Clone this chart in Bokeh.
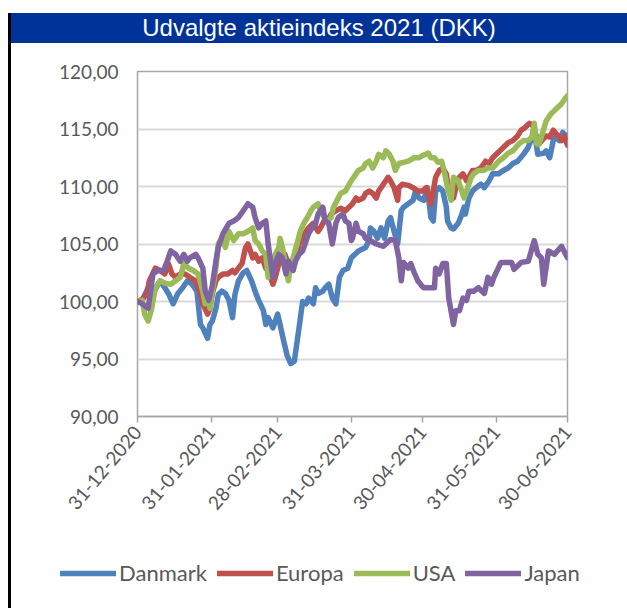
import pandas as pd
from bokeh.plotting import figure
from bokeh.models import (Range1d, FixedTicker, DatetimeTickFormatter, Legend,
                          LegendItem, Div)
from bokeh.layouts import row, column
from bokeh.embed import file_html
from bokeh.resources import INLINE

title_text = "Udvalgte aktieindeks 2021 (DKK)"
start_date = "2020-12-31"
end_date = "2021-06-30"
series_names = ["Danmark", "Europa", "USA", "Japan"]
series_colors = ["#4F81BD", "#C0504D", "#9BBB59", "#8064A2"]
x_tick_dates = ["2020-12-31", "2021-01-31", "2021-02-28", "2021-03-31",
                "2021-04-30", "2021-05-31", "2021-06-30"]
x_tick_labels = ["31-12-2020", "31-01-2021", "28-02-2021", "31-03-2021",
                 "30-04-2021", "31-05-2021", "30-06-2021"]
y_ticks = [90, 95, 100, 105, 110, 115, 120]
y_tick_labels = ["90,00", "95,00", "100,00", "105,00", "110,00", "115,00", "120,00"]

# (days after 31-12-2020, index value)
danmark = [(0, 100.0), (2, 100.1), (4.5, 101.2), (6.5, 100.7), (9.5, 101.8), (11.5, 101.2),
           (13, 100.7), (15, 99.8), (17, 100.7), (19, 101.2), (21, 101.8), (23, 101.5),
           (25, 100.9), (26.5, 98.0), (27.5, 97.7), (29.5, 96.8), (30.5, 98.0), (31.5, 98.3),
           (33, 99.4), (34, 100.6), (35.5, 100.9), (37, 100.7), (38.5, 100.1), (40, 98.6),
           (41, 100.6), (42.5, 101.8), (44.5, 102.5), (46, 102.7), (48, 101.8), (50, 100.6),
           (51, 100.1), (53, 99.2), (54, 98.0), (55, 98.6), (57, 97.7), (59, 98.9),
           (60, 98.0), (61.5, 96.6), (63, 95.3), (64.5, 94.6), (66, 94.8), (68, 97.7),
           (69.5, 100.0), (71, 99.8), (72, 100.3), (74, 99.8), (75, 101.2), (76, 100.7),
           (78, 100.9), (79, 101.2), (80.5, 101.5), (82, 100.3), (83.5, 99.8), (85, 102.1),
           (86.5, 102.7), (88.5, 102.9), (90, 103.8), (93, 104.4), (96, 104.7), (97.5, 105.3),
           (98, 106.4), (99.5, 106.1), (101, 105.5), (102.5, 106.4), (104, 105.5), (105.5, 107.0),
           (106.5, 107.3), (108, 106.1), (109.5, 105.0), (111, 107.9), (112, 108.2), (114, 108.5),
           (116, 108.8), (117, 109.6), (118.5, 109.0), (120.5, 108.8), (122, 109.9), (123.5, 107.3),
           (124.5, 107.0), (125.5, 109.6), (127, 109.9), (128.5, 109.6), (130, 108.2), (130.5, 107.0),
           (132, 106.4), (133, 106.3), (135, 106.8), (136, 107.3), (137.5, 108.2), (138, 107.6),
           (139.5, 109.0), (141, 109.6), (142.5, 109.9), (144.5, 110.2), (146, 109.9), (148, 110.5),
           (149.5, 111.1), (152, 111.1), (154, 111.4), (156, 111.6), (158, 112.0), (160, 112.2),
           (162.5, 112.8), (164.5, 113.4), (165.5, 114.0), (167, 114.7), (168.5, 112.8), (171, 112.9),
           (172, 113.1), (173.5, 112.5), (175, 114.0), (176, 114.3), (177.5, 114.0), (179, 114.7),
           (181, 114.3)]

europa = [(0, 100.0), (2, 100.2), (4, 100.7), (5, 101.8), (7.5, 102.9), (9.5, 102.7),
          (11.5, 102.4), (13, 103.3), (14.5, 102.4), (16, 102.1), (18, 102.4), (20, 102.4),
          (22, 102.1), (24.5, 101.8), (26.5, 100.7), (27.5, 99.8), (29.5, 98.9), (30.5, 99.4),
          (31.5, 100.7), (33, 101.8), (34, 102.1), (36, 102.4), (38, 102.4), (40, 102.7),
          (41, 102.5), (42.5, 102.9), (44, 103.3), (45.5, 104.7), (46.5, 105.0), (48.5, 103.8),
          (49.5, 104.1), (51, 103.5), (52.5, 103.8), (54, 102.9), (55, 102.7), (57, 101.5),
          (58, 102.1), (59.5, 103.3), (61, 103.8), (62, 104.1), (63.5, 103.3), (65, 103.5),
          (66.5, 103.8), (68, 105.0), (69.5, 105.5), (71, 106.1), (72, 106.4), (74, 106.8),
          (76, 106.1), (77, 106.4), (78.5, 107.0), (80, 107.0), (81.5, 107.6), (83.5, 107.9),
          (85.5, 108.1), (87.5, 107.9), (89, 108.2), (90.5, 108.5), (92, 109.0), (93, 108.8),
          (95, 109.0), (96, 109.4), (97.5, 109.6), (99, 109.4), (100.5, 109.0), (101.5, 109.6),
          (103.5, 110.2), (105.5, 110.8), (106.5, 110.5), (108, 109.9), (109.5, 108.8), (110, 109.9),
          (111.5, 110.2), (114, 110.1), (116, 109.9), (118, 109.6), (120, 109.6), (121.5, 109.9),
          (123.5, 108.5), (124.5, 109.6), (125.5, 110.8), (127, 111.4), (128.5, 111.6), (130, 111.1),
          (131, 109.6), (133, 109.0), (134, 109.9), (135.5, 110.8), (137, 111.1), (138.5, 110.5),
          (139.5, 110.8), (141, 111.4), (142.5, 111.4), (144.5, 111.6), (146.5, 112.2), (148, 112.0),
          (149.5, 112.5), (152, 113.0), (154, 113.4), (156, 113.8), (158, 114.0), (160, 114.4),
          (161.5, 114.9), (163, 115.1), (165, 115.5), (166.5, 115.3), (168, 114.3), (169, 113.7),
          (171, 114.2), (172, 114.4), (173.5, 114.3), (175, 114.9), (177, 114.4), (178.5, 114.0),
          (179.5, 114.4), (181, 113.6)]

usa = [(0, 100.0), (2, 100.1), (3, 98.9), (4.5, 98.3), (6, 99.4), (7.5, 101.2),
       (9.5, 101.8), (11.5, 101.6), (14, 101.5), (16, 101.8), (18, 102.1), (19.5, 103.3),
       (21.5, 102.9), (23.5, 102.7), (25.5, 102.4), (27.5, 100.9), (28.5, 99.8), (30, 100.1),
       (30.5, 99.4), (31.5, 100.9), (33, 102.9), (34, 105.0), (35.5, 105.5), (37, 104.7),
       (38.5, 106.1), (40.5, 105.3), (42.5, 105.9), (44.5, 105.9), (46.5, 106.1), (48.5, 106.4),
       (49.5, 105.3), (51, 105.0), (52.5, 104.4), (54, 104.1), (55, 102.1), (57, 103.3),
       (58, 104.1), (59.5, 104.7), (60, 105.5), (61, 104.7), (62.5, 102.9), (63.5, 101.8),
       (64.5, 103.3), (65.5, 103.8), (67.5, 105.3), (68.5, 106.1), (70, 106.8), (71.5, 107.3),
       (73, 107.9), (74, 108.2), (76, 108.5), (77, 107.9), (78.5, 107.3), (80, 107.0),
       (81.5, 107.3), (82.5, 108.2), (84.5, 109.0), (85.5, 109.4), (87.5, 109.6), (90, 110.5),
       (92, 111.1), (93, 111.4), (95, 111.6), (96, 112.0), (97.5, 112.2), (99, 111.6),
       (100.5, 112.2), (101.5, 112.8), (103.5, 112.5), (104.5, 113.1), (106, 112.8), (107.5, 112.2),
       (108.5, 111.4), (110, 112.0), (112, 112.1), (114, 112.2), (116.5, 112.5), (118.5, 112.5),
       (120, 112.7), (122.5, 112.9), (123.5, 112.5), (125, 112.5), (126.5, 112.1), (128, 112.2),
       (129, 111.4), (130.5, 109.9), (132, 108.8), (133, 110.8), (135, 110.5), (136, 109.9),
       (137.5, 109.0), (139, 109.9), (140.5, 110.8), (141.5, 111.1), (143.5, 111.4), (145.5, 111.4),
       (147.5, 111.6), (149.5, 111.6), (152, 112.2), (154, 112.5), (156, 112.9), (158, 113.1),
       (160.5, 113.7), (162.5, 114.0), (164.5, 114.0), (166, 114.3), (167, 115.5), (168, 113.7),
       (169, 113.7), (170, 114.3), (172, 115.7), (174, 116.3), (176.5, 116.8), (178.5, 117.2),
       (179.5, 117.5), (181, 117.9)]

japan = [(0, 100.0), (2, 99.8), (4.5, 99.4), (6.5, 102.4), (8.5, 102.7), (11, 102.7),
         (12.5, 103.5), (14, 104.4), (16, 104.1), (18, 103.5), (19.5, 104.1), (21, 103.5),
         (22, 103.8), (24.5, 104.1), (25.5, 103.8), (27.5, 102.9), (28.5, 100.9), (30, 100.1),
         (31.5, 101.4), (33, 103.5), (34, 104.7), (36, 105.9), (38.5, 106.8), (40.5, 107.0),
         (42.5, 107.3), (44.5, 107.9), (46.5, 108.5), (48.5, 108.2), (49.5, 107.3), (51, 106.4),
         (52.5, 106.8), (54, 107.0), (55, 105.0), (57, 102.1), (58, 103.3), (59.5, 104.1),
         (61, 103.8), (62.5, 102.4), (63.5, 103.5), (65.5, 102.7), (66.5, 103.5), (68, 104.1),
         (69.5, 104.4), (71, 105.3), (72, 105.9), (73.5, 106.4), (75, 106.8), (76, 107.6),
         (78, 108.2), (79, 107.0), (80.5, 106.8), (82, 105.0), (83.5, 106.8), (84.5, 107.3),
         (86.5, 107.6), (87.5, 107.0), (89, 106.8), (90, 105.3), (90.5, 105.5), (92, 106.8),
         (93, 106.1), (95, 105.9), (96, 105.5), (98, 105.3), (100.5, 105.0), (103.5, 104.8),
         (106.5, 105.4), (108.5, 105.3), (110, 103.8), (111, 101.8), (112, 103.4), (114, 102.9),
         (115, 103.3), (116.5, 102.5), (118, 101.8), (119.5, 101.4), (120.5, 101.2), (122.5, 101.2),
         (125, 101.2), (125.5, 102.9), (127, 102.4), (128.5, 103.3), (130, 103.3), (131, 100.3),
         (133, 98.0), (134, 99.2), (135.5, 99.2), (137, 100.3), (138.5, 100.1), (139.5, 100.9),
         (141.5, 100.9), (143.5, 101.2), (146, 100.7), (147.5, 102.1), (149, 101.5), (150, 102.1),
         (153, 103.4), (155, 103.4), (157.5, 103.4), (158.5, 102.8), (161.5, 103.4), (164.5, 103.5),
         (167, 105.3), (168.5, 104.1), (170, 103.8), (171, 101.5), (173, 104.4), (175.5, 104.1),
         (178.5, 104.8), (179.5, 104.4), (181, 103.8)]

series_data = [danmark, europa, usa, japan]

t0 = pd.Timestamp(start_date)

def to_xy(pairs):
    xs = [t0 + pd.Timedelta(days=d) for d, _ in pairs]
    ys = [v for _, v in pairs]
    return xs, ys

FONT = "Lato"
TXT = "#595959"
GRID = "#d9d9d9"
AXIS = "#a6a6a6"
LINE_W = 5.5

# ---------------- main chart ----------------
p = figure(width=616, height=497, x_axis_type="datetime",
           x_range=Range1d(t0, pd.Timestamp(end_date)),
           y_range=Range1d(90, 120),
           output_backend="svg", toolbar_location=None, title=None,
           min_border_left=126, min_border_right=60,
           min_border_top=28, min_border_bottom=124)
p.outline_line_color = AXIS
p.outline_line_width = 1.5
p.background_fill_color = "white"
p.border_fill_color = "white"

p.xgrid.visible = False
p.ygrid.grid_line_color = GRID
p.ygrid.grid_line_width = 2

tick_ms = [pd.Timestamp(d).value // 10**6 for d in x_tick_dates]
p.xaxis.ticker = FixedTicker(ticks=tick_ms)
fmt = "%d-%m-%Y"
p.xaxis.formatter = DatetimeTickFormatter(
    milliseconds=fmt, seconds=fmt, minsec=fmt, minutes=fmt, hourmin=fmt,
    hours=fmt, days=fmt, months=fmt, years=fmt)
p.xaxis.major_label_overrides = {t: l for t, l in zip(tick_ms, x_tick_labels)}
p.xaxis.major_label_orientation = 0.87
p.xaxis.axis_line_color = AXIS
p.xaxis.axis_line_width = 1.5
p.xaxis.major_tick_line_color = AXIS
p.xaxis.major_tick_line_width = 1.5
p.xaxis.major_tick_out = 6
p.xaxis.major_tick_in = 0
p.xaxis.minor_tick_line_color = None
p.xaxis.major_label_standoff = 6

p.yaxis.ticker = FixedTicker(ticks=y_ticks)
p.yaxis.major_label_overrides = {t: l for t, l in zip(y_ticks, y_tick_labels)}
p.yaxis.axis_line_color = None
p.yaxis.major_tick_line_color = None
p.yaxis.minor_tick_line_color = None
p.yaxis.major_tick_out = 0
p.yaxis.major_tick_in = 0
p.yaxis.major_label_standoff = 19

for ax in (p.xaxis, p.yaxis):
    ax.major_label_text_font = FONT
    ax.major_label_text_font_size = "19px"
    ax.major_label_text_color = TXT

for name, color, pairs in zip(series_names, series_colors, series_data):
    xs, ys = to_xy(pairs)
    p.line(xs, ys, line_color=color, line_width=LINE_W,
           line_join="round", line_cap="round")

# ---------------- legend strip (own figure, series kept outside its view) ----------------
pl = figure(width=616, height=68, x_axis_type="datetime",
            x_range=Range1d(t0, pd.Timestamp(end_date)), y_range=Range1d(0, 1),
            x_axis_location=None, y_axis_location=None,
            output_backend="svg", toolbar_location=None, title=None,
            min_border=0, min_border_left=0, min_border_right=0,
            min_border_top=0, min_border_bottom=0)
pl.outline_line_color = None
pl.grid.visible = False
items = []
for name, color, pairs in zip(series_names, series_colors, series_data):
    xs, ys = to_xy(pairs)
    r = pl.line(xs, ys, line_color=color, line_width=LINE_W,
                line_join="round", line_cap="round")
    items.append(LegendItem(label=name, renderers=[r]))

legend = Legend(items=items, orientation="horizontal", location=(49, 22),
                glyph_width=56, glyph_height=20, label_height=20,
                label_standoff=3, spacing=10, padding=0, margin=0,
                label_text_font=FONT, label_text_font_size="22px",
                label_text_color=TXT, border_line_color=None,
                background_fill_alpha=0)
pl.add_layout(legend, "center")

bar_top = Div(text='<div style="margin-left:8px;margin-top:13px;width:3px;height:527px;background:#000;"></div>',
              width=11, height=540, margin=0)
bar_bottom = Div(text='<div style="margin-left:8px;width:3px;height:68px;background:#000;"></div>',
                 width=11, height=68, margin=0)
title_div = Div(text=('<div style="width:616px;height:30px;margin-top:13px;background:#003399;'
                      'color:#ffffff;font-family:\'Liberation Sans\',Arial,sans-serif;'
                      'font-size:24px;line-height:30px;text-align:center;white-space:nowrap;">'
                      + title_text + '</div>'),
                width=616, height=43, margin=0)

layout = column(row(bar_top, column(title_div, p, spacing=0), spacing=0),
                row(bar_bottom, pl, spacing=0), spacing=0)

with open("out.html", "w") as f:
    f.write(file_html(layout, INLINE))
